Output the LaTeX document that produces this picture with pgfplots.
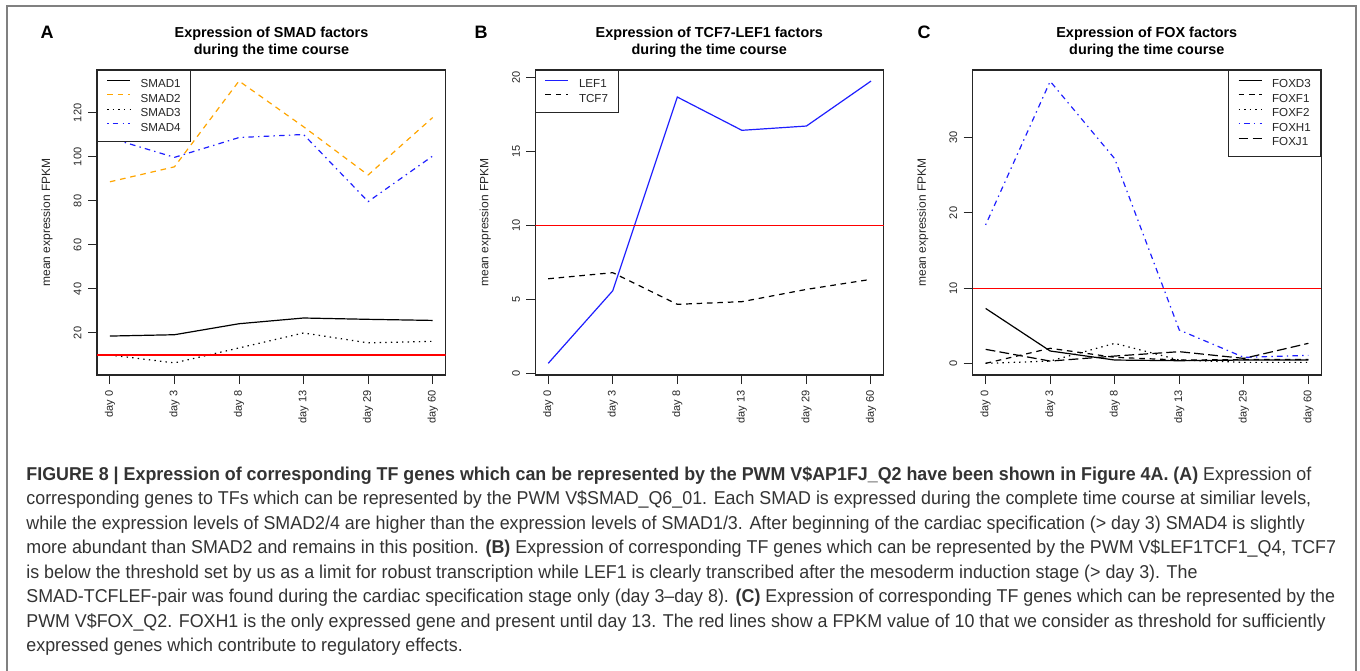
\documentclass[border=0pt]{standalone}
\usepackage{fontspec}
\setmainfont{Liberation Sans}
\newfontfamily\capfont[FakeStretch=0.96]{Liberation Sans}
\usepackage{pgfplots}
\pgfplotsset{compat=1.18}
\definecolor{rorange}{HTML}{FFA500}
\definecolor{rblue}{HTML}{1E1EFF}
\definecolor{framegray}{HTML}{808080}
\tikzset{
 lty2/.style={dash pattern=on 2.8bp off 2.4bp},
 lty3/.style={dash pattern=on 0.7bp off 2.1bp},
 lty4/.style={dash pattern=on 0.7bp off 2.1bp on 2.8bp off 2.1bp},
 lty5/.style={dash pattern=on 4.9bp off 2.1bp},
}
\pgfplotsset{
  rstyle/.style={
    scale only axis, width=174.3bp, height=152.5bp,
    anchor=south west,
    axis line style={line width=0.55bp, black!85},
    every tick/.style={line width=0.5bp, black!85},
    tick align=outside, major tick length=4.5bp,
    tick pos=left,
    xmin=-0.2, xmax=5.2,
    xtick={0,1,2,3,4,5},
    xticklabels={day 0,day 3,day 8,day 13,day 29,day 60},
    /pgf/number format/assume math mode=true,
    tick label style={font=\fontsize{5.5bp}{6.6bp}\selectfont, text=black!85, inner sep=0pt},
    xticklabel style={rotate=90, anchor=east},
    yticklabel style={rotate=90, anchor=south},
    ticklabel shift=3bp,
    ylabel={mean expression FPKM},
    every axis y label/.style={at={(axis description cs:-0.1434,0.5)}, rotate=90, anchor=center, font=\fontsize{6bp}{7.2bp}\selectfont, text=black!85},
    legend cell align=left,
    legend image code/.code={\draw[line width=0.6bp,##1] (0bp,2.1bp) -- (11.5bp,2.1bp);},
    legend style={draw=black!85, line width=0.5bp, fill=white, inner xsep=4.5bp, inner ysep=3.9bp,
      font=\fontsize{5.8bp}{7bp}\selectfont, text=black!85,
      nodes={inner sep=0.5bp, text height=4.3bp, text depth=0.8bp},
      column sep=4.5bp, row sep=1.15bp},
    every axis plot/.append style={line width=0.6bp},
  }
}
\begin{document}
\begin{tikzpicture}[x=1bp,y=1bp]
\useasboundingbox (0,0) rectangle (680,335);
\draw[framegray, line width=0.75bp] (3.5,-5) -- (3.5,332) -- (678,332) -- (678,-5);
% panel letters
\node[font=\bfseries\fontsize{9bp}{10bp}\selectfont, anchor=base] at (23.5,315.75) {A};
\node[font=\bfseries\fontsize{9bp}{10bp}\selectfont, anchor=base] at (240.5,315.75) {B};
\node[font=\bfseries\fontsize{9bp}{10bp}\selectfont, anchor=base] at (462,315.75) {C};
% titles
\tikzset{ttl/.style={font=\bfseries\fontsize{7.2bp}{8.6bp}\selectfont, anchor=base, inner sep=0pt}}
\node[ttl] at (135.75,316.5) {Expression of SMAD factors};
\node[ttl] at (135.75,308) {during the time course};
\node[ttl] at (354.65,316.5) {Expression of TCF7-LEF1 factors};
\node[ttl] at (354.65,308) {during the time course};
\node[ttl] at (573.4,316.5) {Expression of FOX factors};
\node[ttl] at (573.4,308) {during the time course};

% ---------------- Panel A
\begin{axis}[rstyle, at={(48.5bp,147.5bp)},
  ymin=0.9, ymax=139.5, ytick={20,40,60,80,100,120},
  legend style={at={(0,1)}, anchor=north west}]
\addplot[black, solid] coordinates {(0,18.6) (1,19.2) (2,24.2) (3,26.8) (4,26.2) (5,25.7)};
\addlegendentry{SMAD1}
\addplot[rorange, lty2] coordinates {(0,88.7) (1,95.5) (2,134.5) (3,113.7) (4,91.8) (5,117.9)};
\addlegendentry{SMAD2}
\addplot[black, lty3] coordinates {(0,10.0) (1,6.4) (2,13.2) (3,20.0) (4,15.5) (5,16.2)};
\addlegendentry{SMAD3}
\addplot[rblue, lty4] coordinates {(0,108.6) (1,99.8) (2,108.8) (3,110.2) (4,79.7) (5,100.4)};
\addlegendentry{SMAD4}
\addplot[red, solid, forget plot] coordinates {(-0.2,10) (5.2,10)};
\end{axis}

% ---------------- Panel B
\begin{axis}[rstyle, at={(267.65bp,147.5bp)},
  ymin=-0.11, ymax=20.52, ytick={0,5,10,15,20},
  legend style={at={(0,1)}, anchor=north west}]
\addplot[rblue, solid] coordinates {(0,0.68) (1,5.59) (2,18.69) (3,16.44) (4,16.73) (5,19.77)};
\addlegendentry{LEF1}
\addplot[black, lty2] coordinates {(0,6.40) (1,6.81) (2,4.67) (3,4.85) (4,5.68) (5,6.36)};
\addlegendentry{TCF7}
\addplot[red, solid, forget plot] coordinates {(-0.2,10) (5.2,10)};
\end{axis}

% ---------------- Panel C
\begin{axis}[rstyle, at={(486.35bp,147.5bp)},
  ymin=-1.55, ymax=39.0, ytick={0,10,20,30},
  legend style={at={(1,1)}, anchor=north east}]
\addplot[black, solid] coordinates {(0,7.3) (1,1.64) (2,0.44) (3,0.35) (4,0.44) (5,0.44)};
\addlegendentry{FOXD3}
\addplot[black, lty2] coordinates {(0,0.0) (1,2.0) (2,0.8) (3,0.44) (4,0.5) (5,0.5)};
\addlegendentry{FOXF1}
\addplot[black, lty3] coordinates {(0,0.0) (1,0.3) (2,2.66) (3,0.44) (4,0.13) (5,0.13)};
\addlegendentry{FOXF2}
\addplot[rblue, lty4] coordinates {(0,18.4) (1,37.5) (2,27.2) (3,4.43) (4,0.8) (5,1.06)};
\addlegendentry{FOXH1}
\addplot[black, lty5] coordinates {(0,1.86) (1,0.3) (2,0.97) (3,1.55) (4,0.66) (5,2.66)};
\addlegendentry{FOXJ1}
\addplot[red, solid, forget plot] coordinates {(-0.2,10) (5.2,10)};
\end{axis}

% ---------------- caption
\tikzset{captxt/.style={anchor=base west, inner sep=0pt, font=\capfont\fontsize{9.3bp}{11bp}\selectfont, text=black!80}}
\node[captxt] at (13,95) {\textbf{FIGURE 8 | Expression of corresponding TF genes which can be represented by the PWM V\$AP1FJ\_Q2 have been shown in Figure 4A. (A)} Expression of};
\node[captxt] at (13,82.75) {corresponding genes to TFs which can be represented by the PWM V\$SMAD\_Q6\_01. Each SMAD is expressed during the complete time course at similiar levels,};
\node[captxt] at (13,70.5) {while the expression levels of SMAD2/4 are higher than the expression levels of SMAD1/3. After beginning of the cardiac specification (> day 3) SMAD4 is slightly};
\node[captxt] at (13,58.25) {more abundant than SMAD2 and remains in this position. \textbf{(B)} Expression of corresponding TF genes which can be represented by the PWM V\$LEF1TCF1\_Q4, TCF7};
\node[captxt] at (13,46) {is below the threshold set by us as a limit for robust transcription while LEF1 is clearly transcribed after the mesoderm induction stage (> day 3). The};
\node[captxt] at (13,33.75) {SMAD-TCFLEF-pair was found during the cardiac specification stage only (day 3–day 8). \textbf{(C)} Expression of corresponding TF genes which can be represented by the};
\node[captxt] at (13,21.5) {PWM V\$FOX\_Q2. FOXH1 is the only expressed gene and present until day 13. The red lines show a FPKM value of 10 that we consider as threshold for sufficiently};
\node[captxt] at (13,9.25) {expressed genes which contribute to regulatory effects.};
\end{tikzpicture}
\end{document}
